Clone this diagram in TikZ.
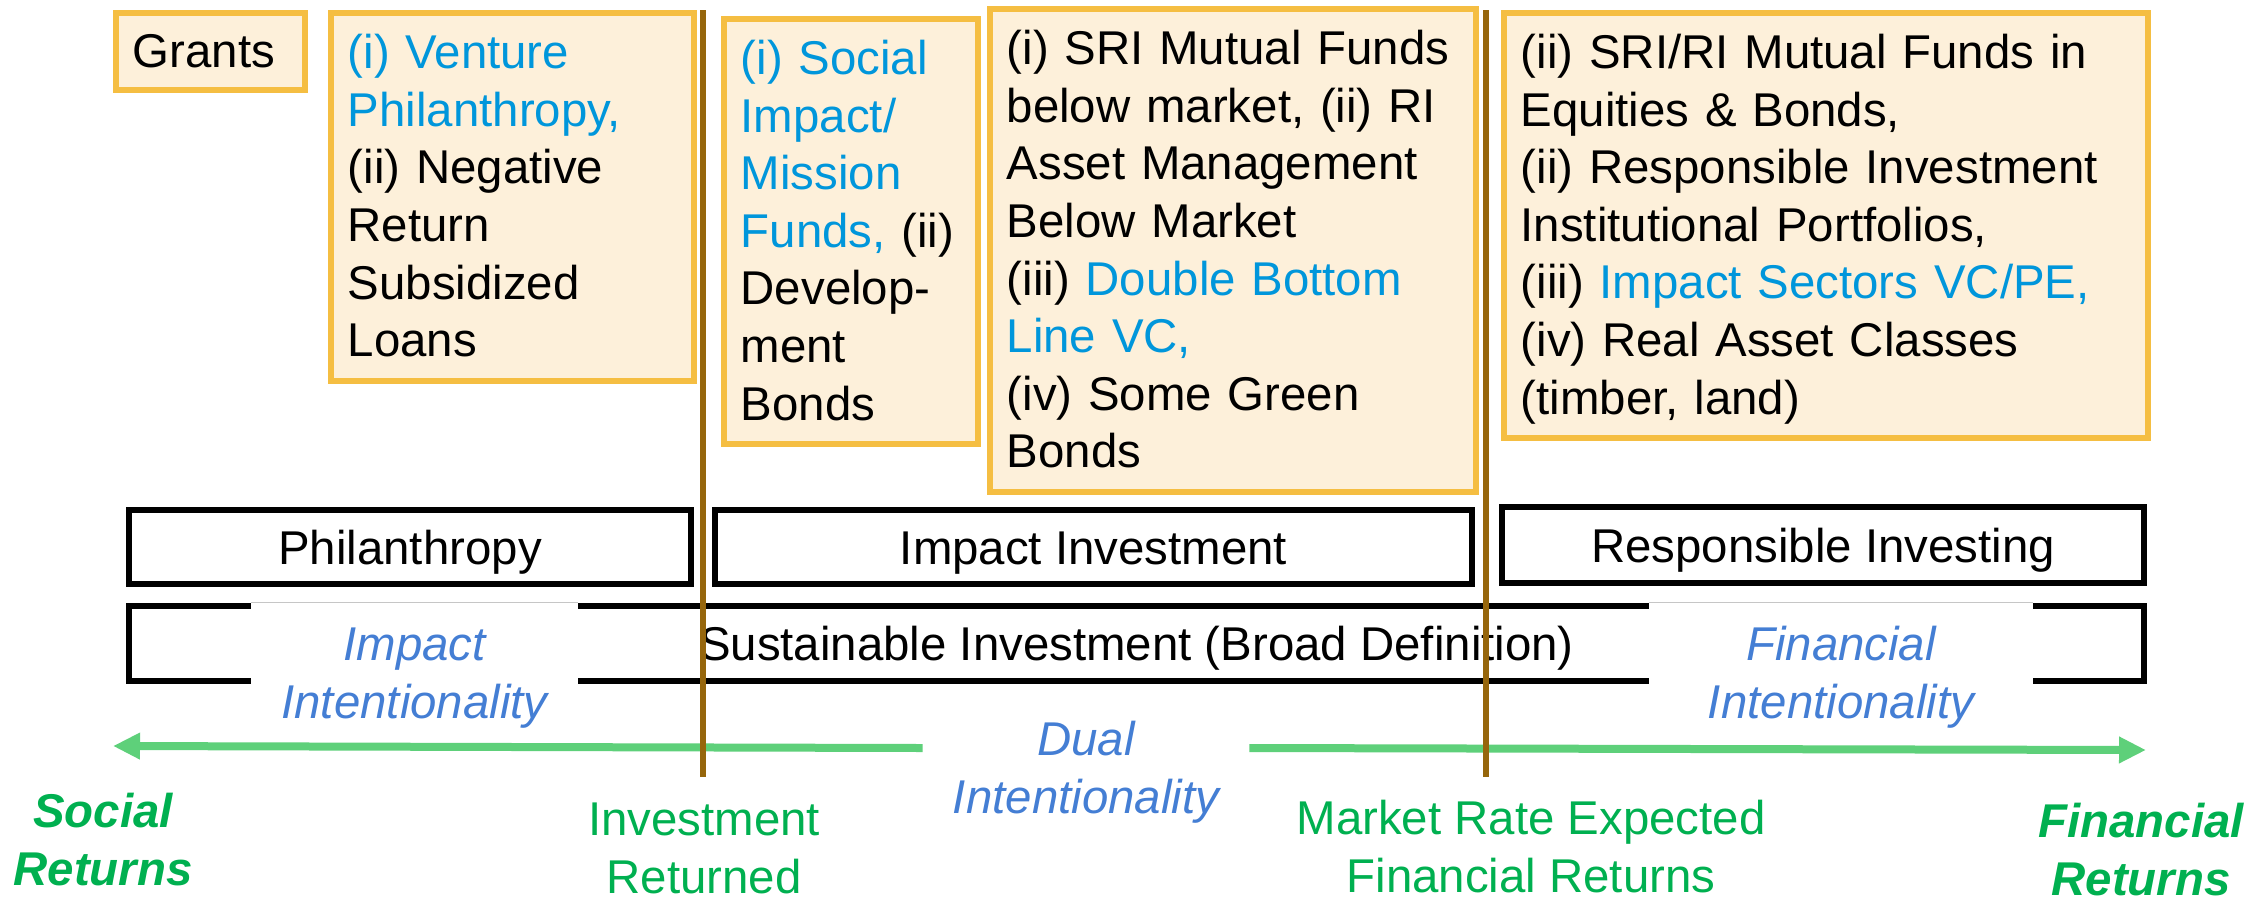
\documentclass[tikz,border=0pt]{standalone}
\usepackage{fontspec}
\setmainfont{Liberation Sans}
\usetikzlibrary{arrows.meta}
\definecolor{goldline}{RGB}{245,190,66}
\definecolor{cream}{RGB}{253,240,218}
\definecolor{tblue}{RGB}{0,150,219}
\definecolor{iblue}{RGB}{68,126,212}
\definecolor{tgreen}{RGB}{0,176,80}
\definecolor{agreen}{RGB}{94,208,122}
\definecolor{brownline}{RGB}{150,102,12}
\newcommand{\fsz}{\fontsize{23.7}{28.8}\selectfont}
\newcommand{\firstline}{\rule{0pt}{24.6pt}}
\begin{document}
\begin{tikzpicture}[x=0.5pt,y=-0.5pt,
  goldbox/.style={draw=goldline, fill=cream, line width=2.75pt, anchor=north west, align=left, inner xsep=8.5pt, inner ysep=0pt, font=\fsz},
  blackbox/.style={draw=black, line width=3pt, font=\fsz, text height=17pt, text depth=0pt, inner sep=0pt},
  intent/.style={font=\fsz\itshape, text=iblue, align=center, inner sep=0pt, anchor=north},
  greenlab/.style={font=\fsz, text=tgreen, align=center, inner sep=0pt, anchor=north},
  boldlab/.style={greenlab, font=\fsz\bfseries\itshape},
  garrow/.style={draw=agreen, line width=4pt, -{Triangle[length=13.5pt,width=12.5pt]}},
  divider/.style={draw=brownline, line width=3pt}
]
\useasboundingbox (0,0) rectangle (2266,896);
\fill[white] (0,0) rectangle (2266,896);

% top gold boxes
\node[goldbox, minimum width=94.5pt, minimum height=38.5pt, text width=77.5pt] (grants) at (113,10)
  {\firstline Grants\strut};
\node[goldbox, minimum width=181.5pt, minimum height=184pt, text width=164.5pt] (venture) at (328,10)
  {\textcolor{tblue}{\firstline(i) Venture}\\\textcolor{tblue}{Philanthropy,}\\(ii) Negative\\Return\\Subsidized\\Loans\strut};
\node[goldbox, minimum width=127pt, minimum height=212.5pt, text width=110pt] (social) at (721,16)
  {\firstline\textcolor{tblue}{(i) Social}\\\textcolor{tblue}{Impact/}\\\textcolor{tblue}{Mission}\\\textcolor{tblue}{Funds,} (ii)\\Develop-\\ment\\Bonds\strut};
\node[goldbox, minimum width=243pt, minimum height=241.5pt, text width=226pt] (sri) at (987,6)
  {\firstline(i) SRI Mutual Funds\\below market, (ii) RI\\Asset Management\\Below Market\\(iii) \textcolor{tblue}{Double Bottom}\\\textcolor{tblue}{Line VC,}\\(iv) Some Green\\Bonds\strut};
\node[goldbox, minimum width=322pt, minimum height=212.5pt, text width=305pt] (ri) at (1501,10)
  {\firstline(ii) SRI/RI Mutual Funds in\\Equities \& Bonds,\\(ii) Responsible Investment\\Institutional Portfolios,\\(iii) \textcolor{tblue}{Impact Sectors VC/PE,}\\(iv) Real Asset Classes\\(timber, land)\strut};

% black category boxes
\node[blackbox, minimum width=281pt, minimum height=37pt] (phil) at (410,547) {Philanthropy};
\node[blackbox, minimum width=378.5pt, minimum height=37pt] (impinv) at (1093.5,547) {Impact Investment};
\node[blackbox, minimum width=321pt, minimum height=38pt] (resp) at (1823,545) {Responsible Investing};
\node[blackbox, minimum width=1007.5pt, minimum height=37.5pt] (sust) at (1136.5,643.5) {Sustainable Investment (Broad Definition)};

% intentionality labels
\node[intent, fill=white, minimum width=163.5pt] (impint) at (414.5,602) {\rule{0pt}{29pt}Impact\\Intentionality\strut};
\node[intent, fill=white, minimum width=192pt] (finint) at (1841,602) {\rule{0pt}{29pt}Financial\\Intentionality\strut};
\draw[gray!45, line width=0.5pt] (impint.north west) -- (impint.north east);
\draw[gray!45, line width=0.5pt] (finint.north west) -- (finint.north east);
\node[intent, minimum width=163pt] (dual) at (1086,715) {\strut Dual\\Intentionality\strut};

% green arrows
\coordinate (ltip) at (113,746);
\coordinate (rtip) at (2146,750);
\draw[garrow] (dual.west |- 0,748) -- (ltip);
\draw[garrow] (dual.east |- 0,748) -- (rtip);

% bottom labels
\node[boldlab] (socret) at (103,787) {\strut Social\\Returns};
\node[greenlab] (invret) at (704,795) {\strut Investment\\Returned};
\node[greenlab] (mkt) at (1531,794) {\strut Market Rate Expected\\Financial Returns};
\node[boldlab] (finret) at (2141,797) {\strut Financial\\Returns};

% brown dividers
\coordinate (d1top) at (703,10);
\coordinate (d1bot) at (703,777);
\coordinate (d2top) at (1486,10);
\coordinate (d2bot) at (1486,777);
\draw[divider] (d1top) -- (d1bot);
\draw[divider] (d2top) -- (d2bot);
\end{tikzpicture}
\end{document}
